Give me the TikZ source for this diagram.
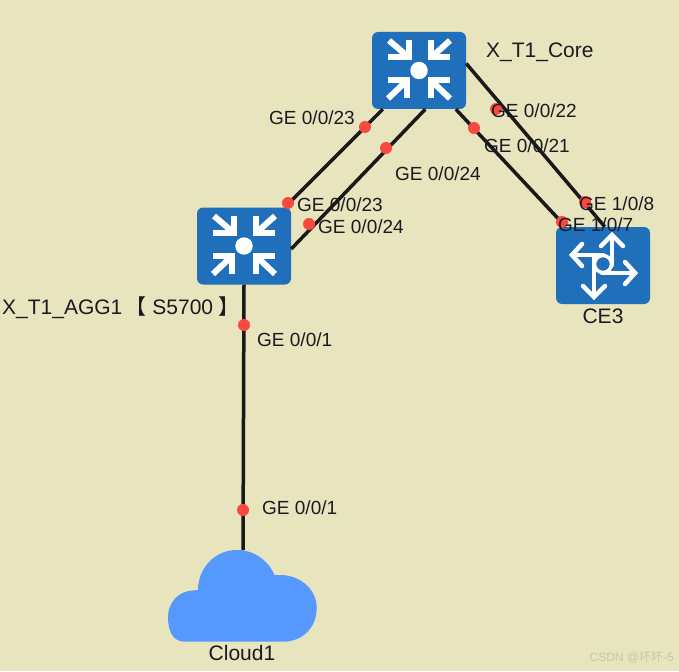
\documentclass[tikz,border=0pt]{standalone}
\usepackage{fontspec}
\setmainfont{Liberation Sans}
\newfontfamily\cjkfont{Noto Sans CJK SC}
\definecolor{bgc}{HTML}{E8E4BE}
\definecolor{devblue}{HTML}{1F6FBA}
\definecolor{cloudblue}{HTML}{5599FF}
\definecolor{dotred}{HTML}{F8483F}
\definecolor{txt}{HTML}{1A1A22}
\definecolor{wm}{HTML}{C9C6A8}
\tikzset{
  device/.style={fill=devblue,rounded corners=6pt,minimum width=94pt,minimum height=77pt,inner sep=0pt},
  link/.style={line width=3.5pt,black!90,line cap=butt},
  portdot/.style={circle,fill=dotred,minimum size=12pt,inner sep=0pt},
  lbl/.style={font=\fontsize{19}{21}\selectfont,text=txt,inner sep=0pt,anchor=west},
  devname/.style={font=\fontsize{21}{23}\selectfont,text=txt,inner sep=0pt},
  inarrow/.style={draw=white,line width=6pt,line cap=butt,line join=miter},
  swirl/.style={draw=white,line width=4.5pt,line cap=round,line join=miter},
  gatherpic/.pic={
    \fill[white] (0,0) circle (8.7pt);
    \draw[inarrow] (-31,-13) -- (-10,-13) -- (-10,-30);
    \draw[inarrow] (-10,-13) -- (-30,-30);
    \draw[inarrow] (31,-13) -- (12,-13) -- (12,-30);
    \draw[inarrow] (12,-13) -- (31,-30);
    \draw[inarrow] (-31,10) -- (-12,10) -- (-12,28);
    \draw[inarrow] (-12,10) -- (-31,28);
    \draw[inarrow] (31,10) -- (12,10) -- (12,28);
    \draw[inarrow] (12,10) -- (31,28);
  },
  routerpic/.pic={
    \draw[white,line width=3.5pt] (0,0) circle (8.5pt);
    \draw[swirl] (9,1) -- (9,-29);
    \draw[swirl] (-2,-18) -- (9,-29) -- (20,-18);
    \draw[swirl] (0,-9) -- (-31,-9);
    \draw[swirl] (-21,-20) -- (-31,-9) -- (-21,2);
    \draw[swirl] (-1,9) -- (32,9);
    \draw[swirl] (22,-2) -- (32,9) -- (22,20);
    \draw[swirl] (-9,-7) -- (-9,33);
    \draw[swirl] (-20,22) -- (-9,33) -- (2,22);
  }
}
\begin{document}
\begin{tikzpicture}[x=1pt,y=-1pt]
\useasboundingbox (0,0) rectangle (679,671);
\fill[bgc] (0,0) rectangle (679,671);
% devices
\node[device] (core) at (419,70.5) {};
\node[device] (agg) at (244,246) {};
\node[device] (ce) at (603,265.5) {};
\pic at (419,70.5) {gatherpic};
\pic at (244,246) {gatherpic};
\pic at (603,264) {routerpic};
% cloud
\fill[cloudblue] (185,641.7) -- (283,641.7)
  .. controls (303,641.7) and (316.7,627) .. (316.7,608)
  .. controls (316.7,589) and (300,575) .. (280,575)
  -- (274.5,575)
  .. controls (268,560) and (254,550) .. (237,550)
  .. controls (215,550) and (198,568) .. (198,590)
  -- (193,590.5)
  .. controls (178,591) and (168,603) .. (168,617)
  .. controls (168,630) and (172,641.7) .. (185,641.7) -- cycle;
\coordinate (cloudtop) at (243,550);
% links
\draw[link] ([xshift=11pt]core.south west) -- ([xshift=88pt]agg.north west);
\draw[link] ([xshift=53.5pt]core.south west) -- ([yshift=-3pt]agg.east);
\draw[link] ([yshift=7pt]core.east) -- ([xshift=49pt]ce.north west);
\draw[link] ([xshift=84pt]core.south west) -- ([xshift=10pt]ce.north west);
\draw[link] (agg.south) -- (cloudtop);
% port dots
\node[portdot] (d1) at (365,127) {};
\node[portdot] (d2) at (386,148) {};
\node[portdot] (d3) at (288,203) {};
\node[portdot] (d4) at (309,224) {};
\node[portdot] (d5) at (496,109) {};
\node[portdot] (d6) at (474,128) {};
\node[portdot] (d7) at (585,202) {};
\node[portdot] (d8) at (562,222) {};
\node[portdot] (d9) at (244,325) {};
\node[portdot] (d10) at (243,510) {};
% labels
\node[lbl] (l1) at (269,118) {GE 0/0/23};
\node[lbl] (l2) at (395,174) {GE 0/0/24};
\node[lbl] (l3) at (491,111) {GE 0/0/22};
\node[lbl] (l4) at (484,146) {GE 0/0/21};
\node[lbl] (l5) at (297,205) {GE 0/0/23};
\node[lbl] (l6) at (318,227) {GE 0/0/24};
\node[lbl] (l7) at (579,204) {GE 1/0/8};
\node[lbl] (l8) at (558,225) {GE 1/0/7};
\node[lbl] (l9) at (257,340) {GE 0/0/1};
\node[lbl] (l10) at (262,508) {GE 0/0/1};
\node[devname,anchor=west] (ncore) at (486,52.5) {X\_T1\_Core};
\node[devname,anchor=west] (nagg) at (2,307.5) {X\_T1\_AGG1\hspace{3pt}{\cjkfont 【}\hspace{6pt}S5700\hspace{5pt}{\cjkfont 】}};
\node[devname] (nce) at (603,316) {CE3};
\node[devname] (ncloud) at (242,653) {Cloud1};
\node[anchor=east,inner sep=0pt,text=wm,font=\fontsize{12}{14}\selectfont] (wmark) at (674,657) {CSDN @{\cjkfont 坏坏}-5};
\end{tikzpicture}
\end{document}
